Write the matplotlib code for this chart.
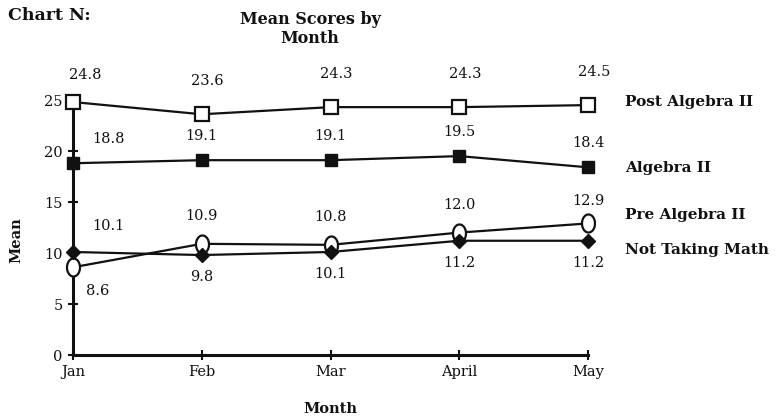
import numpy as np
import matplotlib
matplotlib.use("Agg")
import matplotlib.pyplot as plt
from matplotlib.path import Path

months = ["Jan", "Feb", "Mar", "April", "May"]
post_alg2 = [24.8, 23.6, 24.3, 24.3, 24.5]
alg2 = [18.8, 19.1, 19.1, 19.5, 18.4]
pre_alg2 = [8.6, 10.9, 10.8, 12.0, 12.9]
no_math = [10.1, 9.8, 10.1, 11.2, 11.2]
series_names = ["Post Algebra II", "Algebra II", "Pre Algebra II", "Not Taking Math"]
y_ticks = [0, 5, 10, 15, 20, 25]

plt.rcParams['font.family'] = ['DejaVu Serif']

# tall oval marker like the scanned original
t = np.linspace(0, 2 * np.pi, 40)
oval = Path(np.column_stack([0.72 * np.cos(t), np.sin(t)]))

fig = plt.figure(figsize=(7.77, 4.19), dpi=100)
ax = fig.add_axes([73 / 777, 1 - 355 / 419, 515 / 777, 255 / 419])

x = np.arange(len(months))
ink = "#111111"
lw = 1.6

ax.plot(x, post_alg2, color=ink, lw=lw, marker="s", ms=10, mfc="white",
        mec=ink, mew=1.6, clip_on=False, zorder=3)
ax.plot(x, alg2, color=ink, lw=lw, marker="s", ms=9, mfc=ink, mec=ink,
        clip_on=False, zorder=3)
ax.plot(x, pre_alg2, color=ink, lw=lw, marker=oval, ms=13, mfc="white",
        mec=ink, mew=1.6, clip_on=False, zorder=3)
ax.plot(x, no_math, color=ink, lw=lw, marker="D", ms=7, mfc=ink, mec=ink,
        clip_on=False, zorder=4)

ax.set_xlim(0, 4)
ax.set_ylim(0, 25)
ax.set_xticks(x)
ax.set_xticklabels(months, fontsize=10.5)
ax.set_yticks(y_ticks)
ax.set_yticklabels([str(v) for v in y_ticks], fontsize=10.5)
ax.tick_params(direction="inout", length=7, width=1.5, colors=ink, pad=4)
for side in ["top", "right"]:
    ax.spines[side].set_visible(False)
for side in ["left", "bottom"]:
    ax.spines[side].set_linewidth(2.2)
    ax.spines[side].set_color(ink)


def label(xi, v, dy, dx=0):
    ax.annotate(f"{v:.1f}", (xi, v), xytext=(dx, dy), textcoords="offset pixels",
                ha="center", va="center", fontsize=10.5, color=ink)


for i in x:
    jan_dx = 22 if i == 0 else 0
    post_dy = 27 if i == 0 else 33
    label(i, post_alg2[i], post_dy, 12 if i == 0 else 6)
    label(i, alg2[i], 24, 35 if i == 0 else 0)
    # the higher of the two low series gets its label on top
    if pre_alg2[i] >= no_math[i]:
        label(i, pre_alg2[i], 28 if i < 4 else 22, jan_dx)
        label(i, no_math[i], -22, jan_dx)
    else:
        label(i, no_math[i], 26, 35)
        label(i, pre_alg2[i], -24, 25)

# series names to the right of the lines
nudges = [0.3, -0.1, 0.8, -0.9]
last_vals = [post_alg2[-1], alg2[-1], pre_alg2[-1], no_math[-1]]
for name, v, nd in zip(series_names, last_vals, nudges):
    ax.text(1.072, v + nd, name, transform=ax.get_yaxis_transform(),
            ha="left", va="center", fontsize=11, fontweight="bold", color=ink)

fig.text(8 / 777, 1 - 16 / 419, "Chart N:", ha="left", va="center",
         fontsize=12.5, fontweight="bold", color=ink)
fig.text(310 / 777, 1 - 29 / 419, "Mean Scores by\nMonth", ha="center",
         va="center", fontsize=11.5, fontweight="bold", color=ink, linespacing=1.15)
fig.text(16 / 777, 1 - 240 / 419, "Mean", rotation=90, ha="center",
         va="center", fontsize=10.5, fontweight="bold", color=ink)
fig.text(330 / 777, 1 - 409 / 419, "Month", ha="center", va="center",
         fontsize=10.5, fontweight="bold", color=ink)

fig.savefig("out.png", dpi=100)
